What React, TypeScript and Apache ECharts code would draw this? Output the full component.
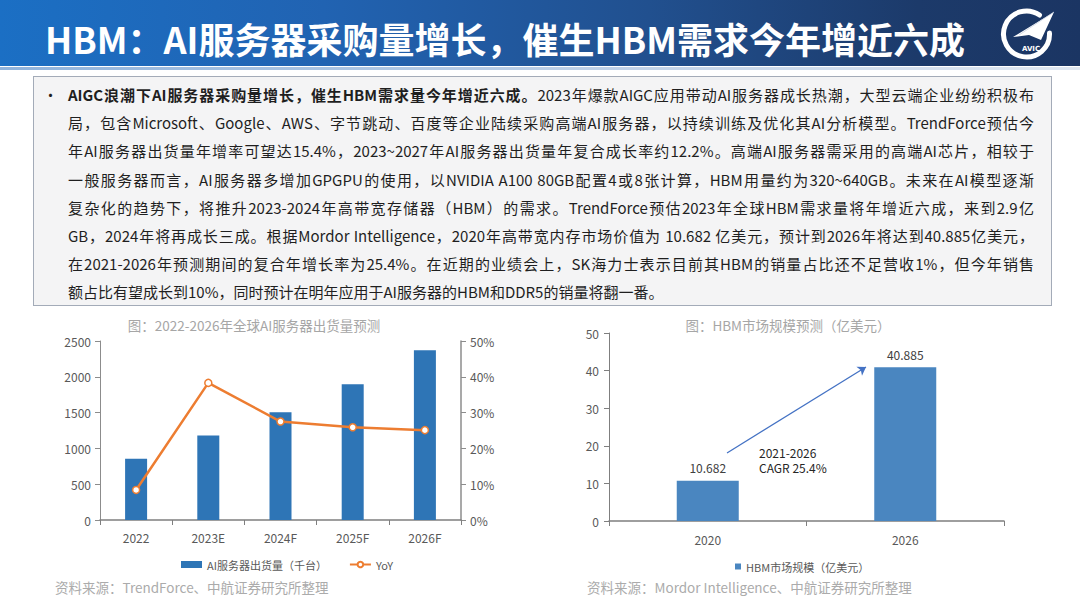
import React, { useEffect, useRef } from "react";
import * as echarts from "echarts";

const FONT = '"Noto Sans CJK SC", "Noto Sans", sans-serif';

const pageTitle = "HBM：AI服务器采购量增长，催生HBM需求今年增近六成";

const boldLead = "AIGC浪潮下AI服务器采购量增长，催生HBM需求量今年增近六成。";
const paragraphLines = [
  "2023年爆款AIGC应用带动AI服务器成长热潮，大型云端企业纷纷积极布",
  "局，包含Microsoft、Google、AWS、字节跳动、百度等企业陆续采购高端AI服务器，以持续训练及优化其AI分析模型。TrendForce预估今",
  "年AI服务器出货量年增率可望达15.4%，2023~2027年AI服务器出货量年复合成长率约12.2%。高端AI服务器需采用的高端AI芯片，相较于",
  "一般服务器而言，AI服务器多增加GPGPU的使用，以NVIDIA A100 80GB配置4或8张计算，HBM用量约为320~640GB。未来在AI模型逐渐",
  "复杂化的趋势下，将推升2023-2024年高带宽存储器（HBM）的需求。TrendForce预估2023年全球HBM需求量将年增近六成，来到2.9亿",
  "GB，2024年将再成长三成。根据Mordor Intelligence，2020年高带宽内存市场价值为 10.682 亿美元，预计到2026年将达到40.885亿美元，",
  "在2021-2026年预测期间的复合年增长率为25.4%。在近期的业绩会上，SK海力士表示目前其HBM的销量占比还不足营收1%，但今年销售",
  "额占比有望成长到10%，同时预计在明年应用于AI服务器的HBM和DDR5的销量将翻一番。",
];

const leftChartTitle = "图：2022-2026年全球AI服务器出货量预测";
const rightChartTitle = "图：HBM市场规模预测（亿美元）";
const leftSource = "资料来源：TrendForce、中航证券研究所整理";
const rightSource = "资料来源：Mordor Intelligence、中航证券研究所整理";

const serverYears = ["2022", "2023E", "2024F", "2025F", "2026F"];
const serverShipments = [855, 1180, 1505, 1895, 2370];
const serverYoY = [8.4, 38.3, 27.5, 25.9, 25.1];
const shipmentName = "AI服务器出货量（千台）";
const yoyName = "YoY";

const hbmYears = ["2020", "2026"];
const hbmMarket = [10.682, 40.885];
const hbmName = "HBM市场规模（亿美元）";
const cagrLines = ["2021-2026", "CAGR 25.4%"];

function buildOption() {
  const axisLabel = { color: "#595959", fontSize: 12, fontFamily: FONT };
  const plain = (v: number) => String(v);
  return {
    animation: false,
    backgroundColor: "#ffffff",
    textStyle: { fontFamily: FONT },
    grid: [
      { left: 100, top: 341, width: 361, height: 179 },
      { left: 609, top: 333, width: 395, height: 188 },
    ],
    xAxis: [
      {
        type: "category",
        gridIndex: 0,
        data: serverYears,
        axisLine: { lineStyle: { color: "#7f7f7f", width: 1.5 } },
        axisTick: { show: true, alignWithLabel: false, length: 5, lineStyle: { color: "#7f7f7f" } },
        axisLabel: { ...axisLabel, margin: 11 },
      },
      {
        type: "category",
        gridIndex: 1,
        data: hbmYears,
        axisLine: { lineStyle: { color: "#7f7f7f", width: 1.5 } },
        axisTick: { show: true, alignWithLabel: false, length: 5, lineStyle: { color: "#7f7f7f" } },
        axisLabel: { ...axisLabel, margin: 12 },
      },
    ],
    yAxis: [
      {
        type: "value",
        gridIndex: 0,
        min: 0,
        max: 2500,
        interval: 500,
        axisLine: { show: true, lineStyle: { color: "#8c8c8c" } },
        axisTick: { show: true, length: 5, lineStyle: { color: "#8c8c8c" } },
        splitLine: { show: false },
        axisLabel: { ...axisLabel, margin: 9, formatter: plain },
      },
      {
        type: "value",
        gridIndex: 0,
        position: "right",
        min: 0,
        max: 50,
        interval: 10,
        axisLine: { show: true, lineStyle: { color: "#8c8c8c", width: 1.5 } },
        axisTick: { show: true, length: 5, lineStyle: { color: "#8c8c8c" } },
        splitLine: { show: false },
        axisLabel: { ...axisLabel, margin: 9, formatter: "{value}%" },
      },
      {
        type: "value",
        gridIndex: 1,
        min: 0,
        max: 50,
        interval: 10,
        axisLine: { show: true, lineStyle: { color: "#7f7f7f" } },
        axisTick: { show: true, length: 5, lineStyle: { color: "#7f7f7f" } },
        splitLine: { show: false },
        axisLabel: { ...axisLabel, margin: 10, formatter: plain },
      },
    ],
    legend: [
      {
        data: [{ name: shipmentName, icon: "rect" }, yoyName],
        left: 176,
        top: 554,
        itemWidth: 21,
        itemHeight: 7,
        itemGap: 22,
        textStyle: { fontSize: 11, color: "#595959", fontFamily: FONT },
      },
      {
        data: [{ name: hbmName, icon: "rect" }],
        left: 730,
        top: 556,
        itemWidth: 6,
        itemHeight: 6,
        itemGap: 5,
        textStyle: { fontSize: 11, color: "#595959", fontFamily: FONT },
      },
    ],
    series: [
      {
        name: shipmentName,
        type: "bar",
        xAxisIndex: 0,
        yAxisIndex: 0,
        data: serverShipments,
        barWidth: 22,
        itemStyle: { color: "#2e75b6" },
      },
      {
        name: yoyName,
        type: "line",
        xAxisIndex: 0,
        yAxisIndex: 1,
        data: serverYoY,
        symbol: "circle",
        symbolSize: 7,
        lineStyle: { color: "#ed7d31", width: 2.5 },
        itemStyle: { color: "#ffffff", borderColor: "#ed7d31", borderWidth: 1.5 },
        z: 3,
      },
      {
        name: hbmName,
        type: "bar",
        xAxisIndex: 1,
        yAxisIndex: 2,
        data: hbmMarket,
        barWidth: 62,
        itemStyle: { color: "#4a86c0" },
        label: {
          show: true,
          position: "top",
          distance: 7,
          color: "#404040",
          fontSize: 12,
          fontFamily: FONT,
        },
        markLine: {
          silent: true,
          symbol: ["none", "arrow"],
          symbolSize: 8,
          label: { show: false },
          lineStyle: { color: "#4472c4", width: 1.3, type: "solid" },
          data: [[{ x: 727, y: 453 }, { x: 866, y: 367 }]],
        },
      },
    ],
    graphic: [
      {
        type: "text",
        x: 254,
        y: 325,
        style: { text: leftChartTitle, textAlign: "center", textVerticalAlign: "middle", fill: "#a6a6a6", font: `13.5px ${FONT}` },
      },
      {
        type: "text",
        x: 788,
        y: 325,
        style: { text: rightChartTitle, textAlign: "center", textVerticalAlign: "middle", fill: "#a6a6a6", font: `13.5px ${FONT}` },
      },
      {
        type: "text",
        x: 55,
        y: 587,
        style: { text: leftSource, textAlign: "left", textVerticalAlign: "middle", fill: "#ababab", font: `13.5px ${FONT}` },
      },
      {
        type: "text",
        x: 587,
        y: 587,
        style: { text: rightSource, textAlign: "left", textVerticalAlign: "middle", fill: "#ababab", font: `13.5px ${FONT}` },
      },
      {
        type: "text",
        x: 759,
        y: 452,
        style: { text: cagrLines[0], textAlign: "left", textVerticalAlign: "middle", fill: "#262626", font: `12px ${FONT}` },
      },
      {
        type: "text",
        x: 759,
        y: 467,
        style: { text: cagrLines[1], textAlign: "left", textVerticalAlign: "middle", fill: "#262626", font: `12px ${FONT}` },
      },
    ],
  };
}

function Logo() {
  return (
    <svg width="62" height="62" viewBox="0 0 62 62" style={{ position: "absolute", left: 996, top: 4 }}>
      <path d="M 43.5 11 A 23 23 0 1 0 53.5 29" stroke="#ffffff" strokeWidth="5" fill="none" strokeLinecap="round" />
      <polygon points="17,33 58,8 45,36 33,31" fill="#ffffff" />
      <polyline points="23,31 58,8" stroke="#c9d3e3" strokeWidth="0.8" fill="none" />
      <text x="35" y="47" fontSize="7" fontWeight="bold" fill="#ffffff" textAnchor="middle" fontFamily="DejaVu Sans, sans-serif">
        AVIC
      </text>
    </svg>
  );
}

export default function App() {
  const chartRef = useRef<HTMLDivElement | null>(null);

  useEffect(() => {
    if (!chartRef.current) return;
    const chart = echarts.init(chartRef.current, undefined, { renderer: "svg" });
    chart.setOption(buildOption());
    return () => {
      chart.dispose();
    };
  }, []);

  const lineTop0 = 95 - 14;
  const lineStep = 28.2;

  return (
    <div style={{ position: "fixed", left: 0, top: 0, width: 1080, height: 608, background: "#ffffff", overflow: "hidden", fontFamily: FONT }}>
      <div ref={chartRef} style={{ position: "absolute", left: 0, top: 0, width: 1080, height: 608 }} />
      <div
        style={{
          position: "absolute",
          left: 0,
          top: 0,
          width: 1080,
          height: 66,
          background: "linear-gradient(90deg, #1b6fc4 0%, #2163b2 30%, #21508f 60%, #1c3a6a 85%, #1b3563 100%)",
        }}
      >
        <div
          style={{
            position: "absolute",
            left: 45,
            top: 18,
            lineHeight: "40px",
            fontSize: 36,
            fontWeight: 700,
            color: "#ffffff",
            whiteSpace: "nowrap",
            fontFamily: FONT,
          }}
        >
          {pageTitle}
        </div>
        <Logo />
      </div>
      <div
        style={{
          position: "absolute",
          left: 0,
          top: 67,
          width: 1080,
          height: 3,
          background: "linear-gradient(90deg, #8fb3dc 0%, #b9cde6 50%, #dfe7f1 100%)",
        }}
      />
      <div
        style={{
          position: "absolute",
          left: 33,
          top: 76,
          width: 1017,
          height: 228,
          border: "1px solid #a3abb8",
          background: "#f4f4f5",
        }}
      />
      <div style={{ position: "absolute", left: 43, top: lineTop0, lineHeight: "28px", fontSize: 15, color: "#1f1f1f" }}>•</div>
      {paragraphLines.map((line, i) => (
        <div
          key={i}
          style={{
            position: "absolute",
            left: 68,
            top: lineTop0 + i * lineStep,
            width: 966,
            height: 28,
            lineHeight: "28px",
            fontSize: 15,
            color: "#1f1f1f",
            textAlign: "justify",
            textAlignLast: i === paragraphLines.length - 1 ? "left" : "justify",
            fontFamily: FONT,
            overflow: "visible",
          }}
        >
          {i === 0 ? <span style={{ fontWeight: 700 }}>{boldLead}</span> : null}
          {line}
        </div>
      ))}
    </div>
  );
}
